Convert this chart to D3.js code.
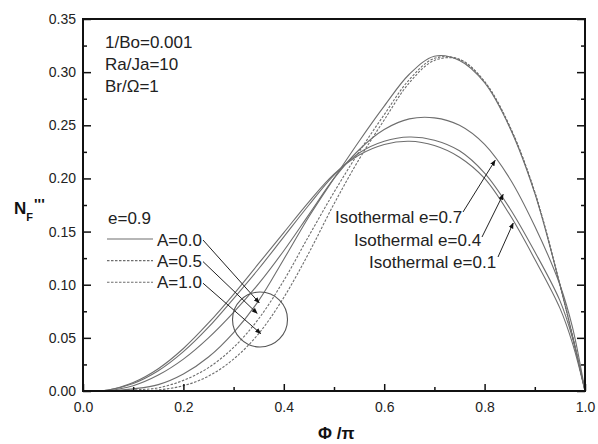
<!DOCTYPE html>
<html>
<head>
<meta charset="utf-8">
<script src="https://cdn.jsdelivr.net/npm/d3@7"></script>
<style>
  body { margin: 0; background: #fff; }
  svg { display: block; font-family: Arial, "Liberation Sans", sans-serif; }
</style>
</head>
<body>
<svg id="chart"></svg>
<script>
// phi / pi positions where the curves were read
var phi = [0, 0.05, 0.1, 0.15, 0.2, 0.25, 0.3, 0.35, 0.4, 0.45, 0.5, 0.55, 0.6, 0.65, 0.7, 0.75, 0.8, 0.85, 0.9, 0.95, 0.975, 1.0];

// isothermal curves
var isoE01 = [0, 0.001, 0.008, 0.021, 0.040, 0.064, 0.091, 0.120, 0.149, 0.178, 0.204, 0.222, 0.232, 0.235, 0.231, 0.220, 0.200, 0.166, 0.124, 0.078, 0.045, 0];
var isoE04 = [0, 0.001, 0.007, 0.019, 0.037, 0.060, 0.087, 0.115, 0.145, 0.175, 0.203, 0.224, 0.235, 0.239, 0.236, 0.226, 0.205, 0.172, 0.131, 0.085, 0.050, 0];
var isoE07 = [0, 0.0005, 0.005, 0.015, 0.030, 0.050, 0.074, 0.101, 0.132, 0.166, 0.200, 0.227, 0.246, 0.256, 0.257, 0.250, 0.232, 0.200, 0.155, 0.100, 0.060, 0];

// e = 0.9 curves
var e09A00 = [0, 0, 0.002, 0.006, 0.016, 0.032, 0.055, 0.085, 0.124, 0.164, 0.200, 0.235, 0.268, 0.298, 0.315, 0.311, 0.290, 0.248, 0.186, 0.100, 0.052, 0];
var e09A05 = [0, 0, 0.001, 0.003, 0.010, 0.022, 0.041, 0.068, 0.104, 0.146, 0.187, 0.225, 0.260, 0.293, 0.313, 0.312, 0.291, 0.249, 0.187, 0.100, 0.052, 0];
var e09A10 = [0, 0, 0, 0.001, 0.005, 0.014, 0.030, 0.054, 0.088, 0.130, 0.176, 0.218, 0.255, 0.290, 0.311, 0.312, 0.291, 0.249, 0.187, 0.100, 0.052, 0];

var xTicks = [0.0, 0.2, 0.4, 0.6, 0.8, 1.0];
var yTicks = [0.00, 0.05, 0.10, 0.15, 0.20, 0.25, 0.30, 0.35];

var paramLines = ["1/Bo=0.001", "Ra/Ja=10", "Br/\u03A9=1"];
var legendNames = ["A=0.0", "A=0.5", "A=1.0"];
var isoNames = ["Isothermal e=0.7", "Isothermal e=0.4", "Isothermal e=0.1"];

var W = 598, H = 444;
var svg = d3.select("#chart").attr("width", W).attr("height", H);
svg.append("rect").attr("width", W).attr("height", H).attr("fill", "#fff");

var x = d3.scaleLinear().domain([0, 1]).range([83, 585]);
var y = d3.scaleLinear().domain([0, 0.35]).range([391, 19]);

svg.append("defs").append("marker")
    .attr("id", "head")
    .attr("viewBox", "0 0 10 10")
    .attr("refX", 9).attr("refY", 5)
    .attr("markerWidth", 6).attr("markerHeight", 6)
    .attr("markerUnits", "userSpaceOnUse")
    .attr("orient", "auto")
  .append("path")
    .attr("d", "M0,1L10,5L0,9Z")
    .attr("fill", "#111");

// curves
var line = d3.line()
    .x(function(d) { return x(d[0]); })
    .y(function(d) { return y(d[1]); })
    .curve(d3.curveCatmullRom.alpha(0.5));

var curves = [
  { v: isoE01, dash: null },
  { v: isoE04, dash: null },
  { v: isoE07, dash: null },
  { v: e09A00, dash: null },
  { v: e09A05, dash: "2.5,1.5" },
  { v: e09A10, dash: "2.5,1.5" }
];

svg.append("g").selectAll("path")
    .data(curves)
    .enter().append("path")
    .attr("d", function(c) { return line(phi.map(function(p, i) { return [p, c.v[i]]; })); })
    .attr("fill", "none")
    .attr("stroke", "#6e6e6e")
    .attr("stroke-width", 1.1)
    .attr("stroke-dasharray", function(c) { return c.dash; });

// axes, ticks point inward
var xMinor = [0.1, 0.3, 0.5, 0.7, 0.9];
var yMinor = [0.025, 0.075, 0.125, 0.175, 0.225, 0.275, 0.325];

svg.append("g").attr("transform", "translate(0,391)")
    .call(d3.axisBottom(x).tickValues(xTicks).tickFormat(d3.format(".1f"))
        .tickSizeInner(-7).tickSizeOuter(0).tickPadding(11));
svg.append("g").attr("transform", "translate(0,391)")
    .call(d3.axisBottom(x).tickValues(xMinor).tickFormat("").tickSizeInner(-4).tickSizeOuter(0));

svg.append("g").attr("transform", "translate(83,0)")
    .call(d3.axisLeft(y).tickValues(yTicks).tickFormat(d3.format(".2f"))
        .tickSizeInner(-8).tickSizeOuter(0).tickPadding(7));
svg.append("g").attr("transform", "translate(83,0)")
    .call(d3.axisLeft(y).tickValues(yMinor).tickFormat("").tickSizeInner(-4).tickSizeOuter(0));

svg.append("g").attr("transform", "translate(585,0)")
    .call(d3.axisRight(y).tickValues(yTicks).tickFormat("").tickSizeInner(-8).tickSizeOuter(0));
svg.append("g").attr("transform", "translate(585,0)")
    .call(d3.axisRight(y).tickValues(yMinor).tickFormat("").tickSizeInner(-4).tickSizeOuter(0));

svg.selectAll(".tick line").attr("stroke", "#111").attr("stroke-width", 1.5);
svg.selectAll(".domain").attr("stroke", "none");
svg.selectAll(".tick text").attr("font-size", 14).attr("fill", "#222")
    .attr("font-family", "Arial, 'Liberation Sans', sans-serif");

// frame
svg.append("rect")
    .attr("x", 83).attr("y", 19).attr("width", 502).attr("height", 372)
    .attr("fill", "none").attr("stroke", "#111").attr("stroke-width", 2);

// axis titles
var yt = svg.append("text").attr("x", 14).attr("y", 214)
    .attr("font-size", 17).attr("font-weight", "bold").attr("fill", "#111");
yt.append("tspan").text("N");
yt.append("tspan").attr("font-size", 11).attr("dy", 7).text("F");
yt.append("tspan").attr("font-size", 15).attr("dy", -12).attr("dx", 1).text("'''");

svg.append("text").attr("x", 318).attr("y", 439)
    .attr("font-size", 17).attr("font-weight", "bold").attr("fill", "#111")
    .text("\u03A6 /\u03C0");

// parameter block
svg.append("g").selectAll("text")
    .data(paramLines)
    .enter().append("text")
    .attr("x", 105)
    .attr("y", function(d, i) { return 48 + i * 22; })
    .attr("font-size", 17).attr("fill", "#222")
    .text(function(d) { return d; });

// legend
svg.append("text").attr("x", 108).attr("y", 224)
    .attr("font-size", 17).attr("fill", "#222").text("e=0.9");

var leg = svg.append("g").selectAll("g")
    .data(legendNames)
    .enter().append("g");
leg.append("line")
    .attr("x1", 107).attr("x2", 153)
    .attr("y1", function(d, i) { return 239 + i * 21.6; })
    .attr("y2", function(d, i) { return 239 + i * 21.6; })
    .attr("stroke", "#6e6e6e").attr("stroke-width", 1.1)
    .attr("stroke-dasharray", function(d, i) { return i === 0 ? null : "2.5,1.5"; });
leg.append("text")
    .attr("x", 157)
    .attr("y", function(d, i) { return 246 + i * 21.2; })
    .attr("font-size", 17).attr("fill", "#222")
    .text(function(d) { return d; });

// legend arrows into the circle (data coords)
var legArrowTips = [[0.351, 0.083], [0.347, 0.073], [0.354, 0.054]];
svg.append("g").selectAll("line")
    .data(legArrowTips)
    .enter().append("line")
    .attr("x1", 203).attr("y1", function(d, i) { return 240 + i * 21.6; })
    .attr("x2", function(d) { return x(d[0]); })
    .attr("y2", function(d) { return y(d[1]); })
    .attr("stroke", "#222").attr("stroke-width", 1)
    .attr("marker-end", "url(#head)");

svg.append("circle")
    .attr("cx", x(0.3526)).attr("cy", y(0.0673)).attr("r", 27.5)
    .attr("fill", "none").attr("stroke", "#555").attr("stroke-width", 1.1);

// isothermal labels and arrows
var isoLabelPos = [[335, 223], [354, 246], [369, 268]];
svg.append("g").selectAll("text")
    .data(isoNames)
    .enter().append("text")
    .attr("x", function(d, i) { return isoLabelPos[i][0]; })
    .attr("y", function(d, i) { return isoLabelPos[i][1]; })
    .attr("font-size", 17).attr("fill", "#222")
    .text(function(d) { return d; });

var isoArrowFrom = [[463, 212], [482, 237], [498, 257]];
var isoArrowTips = [[0.821, 0.217], [0.837, 0.185], [0.857, 0.158]];
svg.append("g").selectAll("line")
    .data(isoArrowTips)
    .enter().append("line")
    .attr("x1", function(d, i) { return isoArrowFrom[i][0]; })
    .attr("y1", function(d, i) { return isoArrowFrom[i][1]; })
    .attr("x2", function(d) { return x(d[0]); })
    .attr("y2", function(d) { return y(d[1]); })
    .attr("stroke", "#222").attr("stroke-width", 1)
    .attr("marker-end", "url(#head)");
</script>
</body>
</html>
